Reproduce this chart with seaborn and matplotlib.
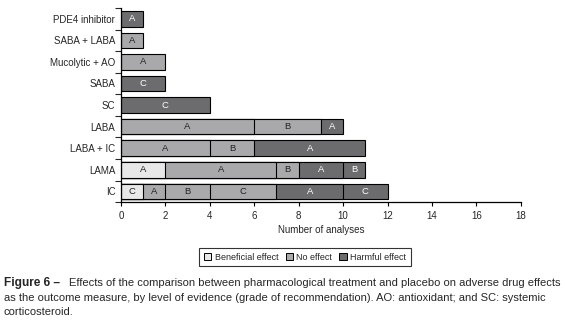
import matplotlib
matplotlib.use("Agg")
import matplotlib.pyplot as plt
import seaborn as sns
import pandas as pd
from matplotlib.patches import Patch

sns.set_style("ticks")
plt.rcParams['font.family'] = ['Liberation Sans', 'DejaVu Sans']

categories = ["PDE4 inhibitor", "SABA + LABA", "Mucolytic + AO", "SABA", "SC",
              "LABA", "LABA + IC", "LAMA", "IC"]
# segments per category: (effect, grade, count)
segments = {
    "PDE4 inhibitor": [("Harmful effect", "A", 1)],
    "SABA + LABA": [("No effect", "A", 1)],
    "Mucolytic + AO": [("No effect", "A", 2)],
    "SABA": [("Harmful effect", "C", 2)],
    "SC": [("Harmful effect", "C", 4)],
    "LABA": [("No effect", "A", 6), ("No effect", "B", 3), ("Harmful effect", "A", 1)],
    "LABA + IC": [("No effect", "A", 4), ("No effect", "B", 2), ("Harmful effect", "A", 5)],
    "LAMA": [("Beneficial effect", "A", 2), ("No effect", "A", 5), ("No effect", "B", 1),
             ("Harmful effect", "A", 2), ("Harmful effect", "B", 1)],
    "IC": [("Beneficial effect", "C", 1), ("No effect", "A", 1), ("No effect", "B", 2),
           ("No effect", "C", 3), ("Harmful effect", "A", 3), ("Harmful effect", "C", 2)],
}
effects = ["Beneficial effect", "No effect", "Harmful effect"]
colors = {"Beneficial effect": "#e8e8e8", "No effect": "#a9a9ab", "Harmful effect": "#6c6c6f"}
text_colors = {"Beneficial effect": "#222222", "No effect": "#222222", "Harmful effect": "white"}

rows = []
for cat in categories:
    start = 0
    for k, (eff, grade, n) in enumerate(segments[cat]):
        rows.append(dict(category=cat, k=k, effect=eff, grade=grade,
                         start=start, end=start + n))
        start += n
df = pd.DataFrame(rows)

fig = plt.figure(figsize=(5.65, 3.33), dpi=100)
ax = fig.add_axes([0.214, 0.393, 0.708, 0.583])

for k in sorted(df.k.unique(), reverse=True):
    sub = df[df.k == k]
    sns.barplot(data=sub, x="end", y="category", hue="effect", order=categories,
                hue_order=effects, palette=colors, dodge=False, width=0.72,
                edgecolor="black", linewidth=0.8, legend=False, ax=ax, orient="h")

for _, r in df.iterrows():
    yi = categories.index(r.category)
    ax.text((r.start + r.end) / 2, yi, r.grade, ha="center", va="center",
            fontsize=6.8, color=text_colors[r.effect])

ax.set_xlim(0, 18)
ax.set_ylim(8.5, -0.5)
ax.set_xticks(range(0, 19, 2))
ax.set_xlabel("Number of analyses", fontsize=7, labelpad=3)
ax.set_ylabel("")
ax.tick_params(axis="both", labelsize=7, width=0.8, length=3, color="black")
ax.tick_params(axis="y", length=0, pad=4)
ax.set_yticks([i + 0.5 for i in range(-1, 9)], minor=True)
ax.tick_params(axis="y", which="minor", length=4, width=0.8)
sns.despine(ax=ax)
for s in ["left", "bottom"]:
    ax.spines[s].set_linewidth(0.9)
    ax.spines[s].set_color("black")

handles = [Patch(facecolor=colors[e], edgecolor="black", linewidth=0.7, label=e) for e in effects]
leg = fig.legend(handles=handles, loc="center", bbox_to_anchor=(0.54, 0.228), ncol=3,
                 fontsize=6.5, frameon=True, fancybox=False, handlelength=0.8,
                 handleheight=0.8, handletextpad=0.4, columnspacing=0.8,
                 borderpad=0.5)
leg.get_frame().set_edgecolor("black")
leg.get_frame().set_linewidth(0.8)

fig.text(0.007, 0.140, "Figure 6 \u2013", fontsize=8.6, fontweight="bold", va="baseline")
fig.text(0.122, 0.140, "Effects of the comparison between pharmacological treatment and placebo on adverse drug effects",
         fontsize=8.0, va="baseline")
fig.text(0.007, 0.097, "as the outcome measure, by level of evidence (grade of recommendation). AO: antioxidant; and SC: systemic",
         fontsize=8.0, va="baseline")
fig.text(0.007, 0.054, "corticosteroid.", fontsize=8.0, va="baseline")

fig.savefig("out.png", dpi=100)
